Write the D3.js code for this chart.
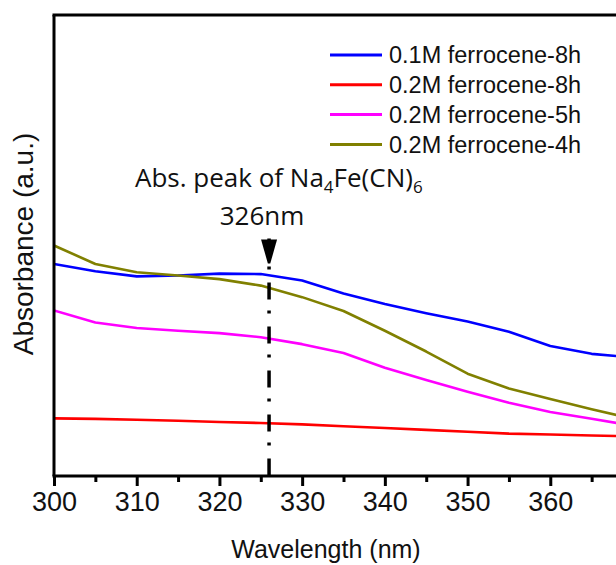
<!DOCTYPE html>
<html>
<head>
<meta charset="utf-8">
<script src="https://cdn.jsdelivr.net/npm/d3@7/dist/d3.min.js"></script>
<style>
  html, body { margin: 0; padding: 0; background: #fff; }
  svg { display: block; }
</style>
</head>
<body>
<svg id="chart" width="616" height="565"></svg>
<script>
// UV-Vis absorbance spectra, 300-370 nm, 5 nm steps
const wavelengths = [300, 305, 310, 315, 320, 325, 330, 335, 340, 345, 350, 355, 360, 365, 370];

const seriesNames = [
  "0.1M ferrocene-8h",
  "0.2M ferrocene-8h",
  "0.2M ferrocene-5h",
  "0.2M ferrocene-4h"
];
const seriesColors = ["#0000ff", "#ff0000", "#ff00ff", "#808000"];

const ferrocene01M8h = [0.460, 0.444, 0.433, 0.435, 0.439, 0.438, 0.424, 0.396, 0.373, 0.353, 0.335, 0.313, 0.282, 0.265, 0.257];
const ferrocene02M8h = [0.125, 0.124, 0.122, 0.120, 0.117, 0.115, 0.112, 0.108, 0.104, 0.100, 0.096, 0.092, 0.090, 0.088, 0.086];
const ferrocene02M5h = [0.359, 0.333, 0.321, 0.315, 0.310, 0.301, 0.286, 0.267, 0.235, 0.208, 0.183, 0.159, 0.139, 0.124, 0.109];
const ferrocene02M4h = [0.500, 0.460, 0.442, 0.435, 0.427, 0.413, 0.388, 0.358, 0.315, 0.270, 0.222, 0.190, 0.167, 0.145, 0.124];

const seriesValues = [ferrocene01M8h, ferrocene02M8h, ferrocene02M5h, ferrocene02M4h];

// Axis ticks
const majorTicks = [300, 310, 320, 330, 340, 350, 360];
const minorTicks = [305, 315, 325, 335, 345, 355, 365];

// Absorption peak annotation
const peakWavelength = 326;
const peakMarkerLevel = 0.513;
const peakTitle = "Abs. peak of Na";
const peakLabel = "326nm";

const svg = d3.select("#chart");

const plot = { left: 54, right: 633, top: 15, bottom: 476 };

const x = d3.scaleLinear().domain([300, 370]).range([plot.left, plot.right]);
const y = d3.scaleLinear().domain([0, 1]).range([plot.bottom, plot.top]);

svg.append("defs").append("clipPath").attr("id", "plotClip")
  .append("rect")
  .attr("x", plot.left).attr("y", plot.top)
  .attr("width", plot.right - plot.left).attr("height", plot.bottom - plot.top);

// Spectra
const line = d3.line()
  .x((d, i) => x(wavelengths[i]))
  .y(d => y(d));

const curves = svg.append("g").attr("clip-path", "url(#plotClip)");
seriesValues.forEach((vals, i) => {
  curves.append("path")
    .datum(vals)
    .attr("d", line)
    .attr("fill", "none")
    .attr("stroke", seriesColors[i])
    .attr("stroke-width", 2.6)
    .attr("stroke-linejoin", "round");
});

// Peak marker: dash-dot guide and downward triangle
const px = x(peakWavelength);
const markerTop = y(peakMarkerLevel);
svg.append("line")
  .attr("x1", px).attr("x2", px)
  .attr("y1", markerTop - 1).attr("y2", plot.bottom)
  .attr("stroke", "#000")
  .attr("stroke-width", 3.5)
  .attr("stroke-dasharray", "17,11,3,13");

svg.append("path")
  .attr("d", `M${px - 8},${markerTop} L${px + 8},${markerTop} L${px + 1.2},${markerTop + 24} L${px - 1.2},${markerTop + 24} Z`)
  .attr("fill", "#000");

// Frame (top and left) and bottom axis
svg.append("line")
  .attr("x1", plot.left - 1.5).attr("x2", 616)
  .attr("y1", plot.top).attr("y2", plot.top)
  .attr("stroke", "#000").attr("stroke-width", 3);
svg.append("line")
  .attr("x1", plot.left).attr("x2", plot.left)
  .attr("y1", plot.top).attr("y2", plot.bottom)
  .attr("stroke", "#000").attr("stroke-width", 3);

const xAxisMajor = d3.axisBottom(x)
  .tickValues(majorTicks)
  .tickSize(10)
  .tickSizeOuter(0)
  .tickPadding(6)
  .tickFormat(d3.format("d"));

const gx = svg.append("g")
  .attr("transform", `translate(0,${plot.bottom})`)
  .call(xAxisMajor);
gx.select(".domain").attr("stroke-width", 3).attr("d", `M${plot.left - 1.5},0H${616}`);
gx.selectAll(".tick line").attr("stroke-width", 3);
gx.selectAll(".tick text")
  .attr("font-family", "'Liberation Sans', Arial, sans-serif")
  .attr("font-size", 27)
  .attr("fill", "#111");

const xAxisMinor = d3.axisBottom(x)
  .tickValues(minorTicks)
  .tickSize(6)
  .tickSizeOuter(0)
  .tickFormat("");
const gxm = svg.append("g")
  .attr("transform", `translate(0,${plot.bottom})`)
  .call(xAxisMinor);
gxm.select(".domain").remove();
gxm.selectAll(".tick line").attr("stroke-width", 3);

// Axis titles
svg.append("text")
  .attr("x", 326).attr("y", 558)
  .attr("text-anchor", "middle")
  .attr("font-family", "'Liberation Sans', Arial, sans-serif")
  .attr("font-size", 25)
  .attr("fill", "#111")
  .text("Wavelength (nm)");

svg.append("text")
  .attr("transform", "translate(33,244) rotate(-90)")
  .attr("text-anchor", "middle")
  .attr("font-family", "'Liberation Sans', Arial, sans-serif")
  .attr("font-size", 28)
  .attr("fill", "#111")
  .text("Absorbance (a.u.)");

// Legend
const legend = svg.append("g").attr("transform", "translate(330,55)");
seriesNames.forEach((name, i) => {
  const row = legend.append("g").attr("transform", `translate(0,${i * 29.8})`);
  row.append("line")
    .attr("x1", 0).attr("x2", 52)
    .attr("y1", 0).attr("y2", 0)
    .attr("stroke", seriesColors[i])
    .attr("stroke-width", 3);
  row.append("text")
    .attr("x", 59).attr("y", 0)
    .attr("dy", "0.36em")
    .attr("font-family", "'Liberation Sans', Arial, sans-serif")
    .attr("font-size", 23.5)
    .attr("fill", "#111")
    .text(name);
});

// Peak annotation text
const title = svg.append("text")
  .attr("x", 135).attr("y", 187)
  .attr("font-family", "'Open Sans', sans-serif")
  .attr("font-size", 26)
  .attr("fill", "#111");
title.append("tspan").text(peakTitle);
title.append("tspan").attr("font-size", 17).attr("dy", 6).text("4");
title.append("tspan").attr("dy", -6).text("Fe(CN)");
title.append("tspan").attr("font-size", 17).attr("dy", 6).text("6");

svg.append("text")
  .attr("x", px - 7).attr("y", 225)
  .attr("text-anchor", "middle")
  .attr("font-family", "'Open Sans', sans-serif")
  .attr("font-size", 26)
  .attr("fill", "#111")
  .text(peakLabel);
</script>
</body>
</html>
